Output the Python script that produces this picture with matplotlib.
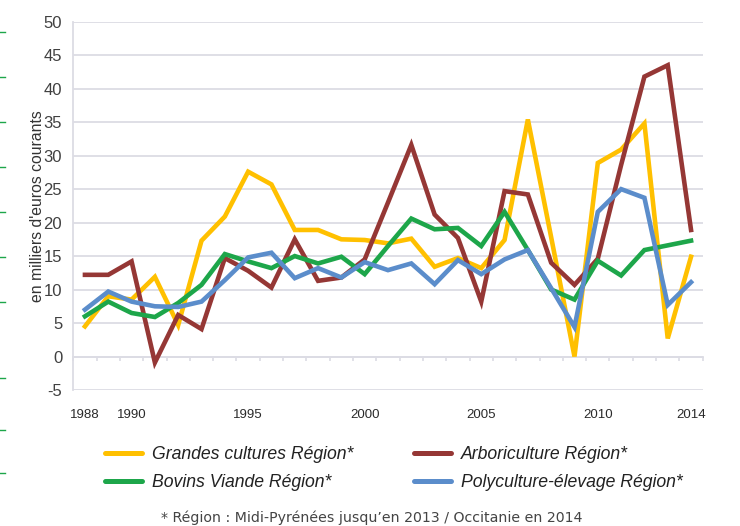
import matplotlib
matplotlib.use("Agg")
import matplotlib.pyplot as plt
from matplotlib.lines import Line2D

# donnees (milliers d'euros courants)
annees = list(range(1988, 2015))
grandes_cultures = [4.5, 9.0, 8.5, 11.9, 4.7, 17.3, 20.9, 27.6, 25.7, 18.9, 18.9, 17.5, 17.4, 16.9,
                    17.6, 13.4, 14.7, 13.2, 17.4, 35.4, 17.8, 0.0, 28.9, 30.9, 34.8, 2.7, 14.9]
arboriculture = [12.2, 12.2, 14.2, -0.9, 6.2, 4.1, 14.7, 12.8, 10.3, 17.5, 11.3, 11.8, 14.5, 23.0,
                 31.6, 21.2, 17.7, 8.2, 24.7, 24.2, 14.0, 10.7, 14.6, 28.6, 41.8, 43.5, 18.9]
bovins_viande = [6.0, 8.2, 6.5, 5.9, 8.0, 10.7, 15.3, 14.2, 13.2, 15.0, 13.9, 14.9, 12.3, 16.5,
                 20.6, 19.0, 19.2, 16.5, 21.6, 15.9, 10.0, 8.5, 14.3, 12.1, 15.9, 16.6, 17.3]
polyculture = [7.0, 9.7, 8.2, 7.5, 7.4, 8.2, 11.4, 14.8, 15.5, 11.7, 13.2, 11.8, 14.1, 12.9,
               13.9, 10.8, 14.4, 12.3, 14.5, 15.9, 10.2, 4.4, 21.6, 25.0, 23.7, 7.7, 11.1]
annees_affichees = [1988, 1990, 1995, 2000, 2005, 2010, 2014]
noms = ['Grandes cultures Région*', 'Arboriculture Région*',
        'Bovins Viande Région*', 'Polyculture-élevage Région*']
couleurs = ['#FFC000', '#953735', '#1DA64A', '#5B8DCB']

plt.rcParams['axes.unicode_minus'] = False
police = ['Liberation Sans', 'DejaVu Sans']
gris = '#dcdce4'

fig = plt.figure(figsize=(7.4, 5.26), dpi=100)
ax = fig.add_axes([73.3 / 740, 1 - 390 / 526, (702.7 - 73.3) / 740, (390 - 21.7) / 526])

series = [grandes_cultures, arboriculture, bovins_viande, polyculture]
for valeurs, nom, c in zip(series, noms, couleurs):
    ax.plot(annees, valeurs, color=c, lw=3.3, label=nom, solid_joinstyle='miter')

ax.set_xlim(1987.5, 2014.5)
ax.set_ylim(-5, 50)
ax.set_yticks(range(-5, 51, 5))
ax.yaxis.grid(True, color=gris, lw=1.3)
ax.set_axisbelow(True)
for s in ['top', 'right', 'bottom']:
    ax.spines[s].set_visible(False)
ax.spines['left'].set_color(gris)
ax.spines['left'].set_linewidth(1.3)

ax.set_xticks(annees_affichees)
ax.tick_params(axis='x', length=0, pad=14, labelsize=9.5, labelcolor='#2a2a2a')
ax.tick_params(axis='y', length=0, pad=8, labelsize=12, labelcolor='#404040')
for t in ax.get_xticklabels() + ax.get_yticklabels():
    t.set_family(police)
ax.set_ylabel("en milliers d'euros courants", fontsize=11.3, color='#333333',
              family=police, labelpad=-1)

# axe des categories sur la ligne du zero (graduations entre les annees)
axe0 = ax.secondary_xaxis(5 / 55)
axe0.set_xticks([a - 0.5 for a in annees] + [annees[-1] + 0.5])
axe0.tick_params(length=3, color=gris, width=1.2, labelbottom=False)
axe0.spines['bottom'].set_color(gris)
axe0.spines['bottom'].set_linewidth(1.3)

# legende en deux colonnes
kw = dict(frameon=False, handlelength=2.1, handletextpad=0.55,
          labelspacing=0.62, borderpad=0, borderaxespad=0, loc='upper left',
          prop={'family': police, 'style': 'italic', 'size': 12.7})
for paire, x0 in [((0, 2), 105), ((1, 3), 414)]:
    hs = [Line2D([], [], color=couleurs[i], lw=3.6, solid_capstyle='round') for i in paire]
    leg = fig.legend(hs, [noms[i] for i in paire], bbox_to_anchor=(x0 / 740, 1 - 446 / 526), **kw)
    for t in leg.get_texts():
        t.set_color('#222222')

fig.text(372 / 740, 1 - 518 / 526, "* Région : Midi-Pyrénées jusqu’en 2013 / Occitanie en 2014",
         ha='center', va='center', fontsize=10.2, color='#444444')

# petits traits verts en marge gauche de la page
for y in [32, 77, 122, 167, 212, 257, 302, 378, 430, 473]:
    fig.add_artist(Line2D([0, 5 / 740], [1 - y / 526] * 2, color='#1DA64A', lw=1))

fig.savefig('out.png', dpi=100)
